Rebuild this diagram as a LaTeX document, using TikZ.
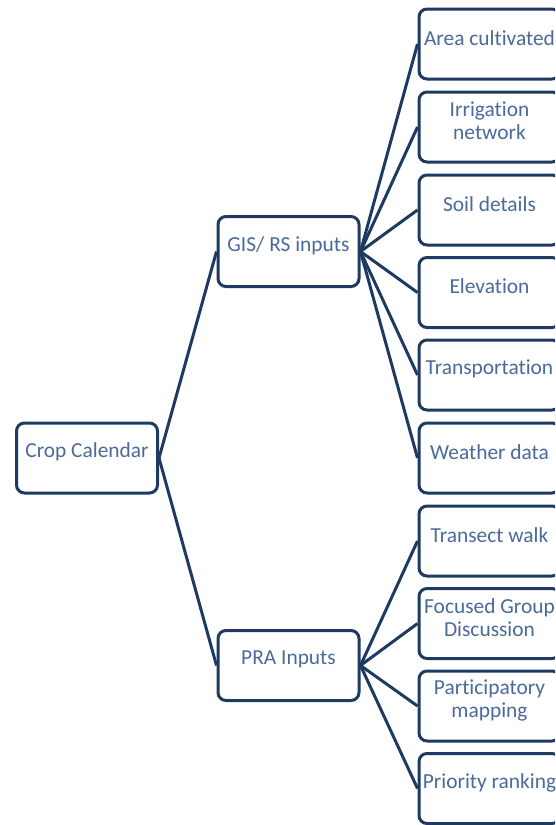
\documentclass[tikz,border=0pt]{standalone}
\usepackage{fontspec}
\setmainfont{Carlito}[Ligatures=NoCommon]
\definecolor{navy}{HTML}{1F3A60}
\definecolor{txtblue}{HTML}{4A6A9A}
\tikzstyle{box}=[draw=navy,line width=3pt,rounded corners=8pt,fill=white,minimum width=141pt,minimum height=70pt]
\newcommand{\block}[3]{\node[box,label={[boxtext]center:{#3}}] (#1) at (#2) {};}
\tikzset{
	boxtext/.style={text=txtblue,align=center,yshift=6pt,font=\fontsize{21.4}{23}\selectfont},
	link/.style={draw=navy,line width=3pt},
}

\begin{document}
\begin{tikzpicture}[x=1pt,y=-1pt]
    \useasboundingbox (0,0) rectangle (555,825);
    \clip (0,0) rectangle (555,825);

        \block{crop}{87,458}{Crop Calendar}
        \block{gis}{288.5,251.5}{GIS/ RS inputs}
        \block{pra}{288.5,665.5}{PRA Inputs}

        \block{area}{489.5,44}{Area cultivated}
        \block{irrig}{489.5,127}{Irrigation\\network}
        \block{soil}{489.5,210}{Soil details}
        \block{elev}{489.5,292.5}{Elevation}
        \block{trans}{489.5,375}{Transportation}
        \block{weather}{489.5,458}{Weather data}

        \block{walk}{489.5,541}{Transect walk}
        \block{fgd}{489.5,623.5}{Focused Group\\Discussion}
        \block{pmap}{489.5,706}{Participatory\\mapping}
        \block{rank}{489.5,788.5}{Priority ranking}

   \draw[link] (crop.east) -- (gis.west);
   \draw[link] (crop.east) -- (pra.west);
   \foreach \c in {area,irrig,soil,elev,trans,weather}
       \draw[link] (gis.east) -- (\c.west);
   \foreach \c in {walk,fgd,pmap,rank}
       \draw[link] (pra.east) -- (\c.west);
\end{tikzpicture}
\end{document}
